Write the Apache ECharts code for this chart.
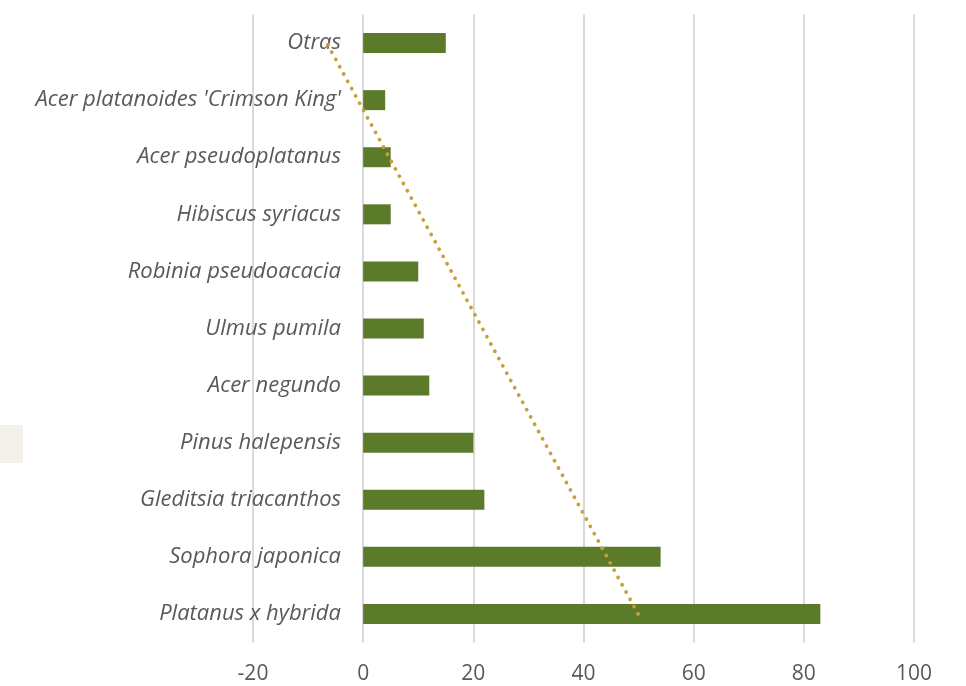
<!DOCTYPE html>
<html><head><meta charset="utf-8">
<script src="https://cdn.jsdelivr.net/npm/echarts@6/dist/echarts.min.js"></script>
<style>html,body{margin:0;padding:0;background:#fff}#c{width:966px;height:686px}</style>
</head><body><div id="c"></div>
<script>
const categories = ["Platanus x hybrida","Sophora japonica","Gleditsia triacanthos","Pinus halepensis","Acer negundo","Ulmus pumila","Robinia pseudoacacia","Hibiscus syriacus","Acer pseudoplatanus","Acer platanoides 'Crimson King'","Otras"];
const values = [83,54,22,20,12,11,10,5,5,4,15];
const trendCategories = ["Platanus x hybrida","Otras"];
const trendValues = [49.9,-6.6];
const xTicks = [-20,0,20,40,60,80,100];

const chart = echarts.init(document.getElementById('c'));
chart.setOption({
  animation:false,
  backgroundColor:'#ffffff',
  grid:{left:253,right:52,top:14.5,bottom:43.5,containLabel:false,outerBoundsMode:'none'},
  xAxis:{type:'value',min:xTicks[0],max:xTicks[xTicks.length-1],interval:20,
    axisLine:{show:false},axisTick:{show:false},
    splitLine:{show:true,lineStyle:{color:'#d9d9d9',width:2}},
    axisLabel:{color:'#595959',fontSize:21,fontFamily:'Open Sans',margin:21}},
  yAxis:{type:'category',data:categories,
    axisLine:{show:false},axisTick:{show:false},
    axisLabel:{color:'#595959',fontSize:22,fontStyle:'italic',fontFamily:'Open Sans',margin:-88}},
  graphic:[{type:'rect',shape:{x:0,y:425,width:23,height:38},style:{fill:'#f4f0ea'}}],
  series:[
    {type:'bar',data:values,barWidth:20,itemStyle:{color:'#5b7a2a'}},
    {type:'line',data:trendCategories.map((c,i)=>[trendValues[i],c]),symbol:'none',
      lineStyle:{color:'#c9a038',width:3.8,type:[0.01,8.3],cap:'round'},z:5}
  ]
});
</script></body></html>
